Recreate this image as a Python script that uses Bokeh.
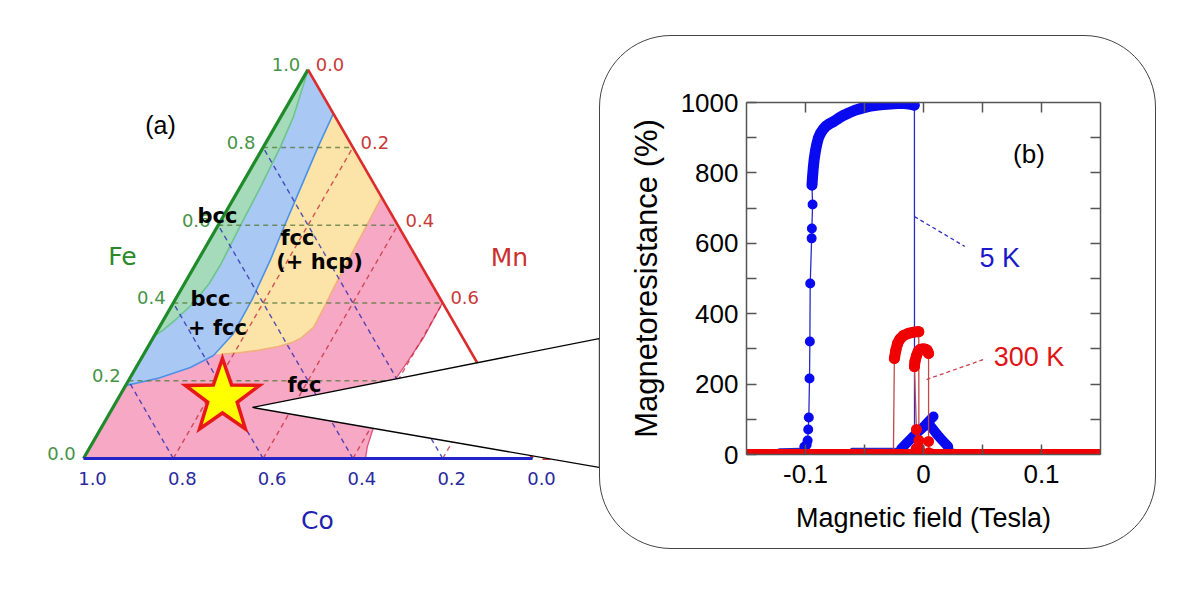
import numpy as np
from bokeh.plotting import figure
from bokeh.models import Range1d, LinearAxis, FixedTicker, Spacer
from bokeh.layouts import row, column
from bokeh.core.properties import value
from bokeh.embed import file_html
from bokeh.resources import INLINE

# ---------------- (a) ternary phase diagram data (Fe fraction, Mn fraction) ----------------
tern_ticks = [0.0, 0.2, 0.4, 0.6, 0.8, 1.0]
tern_tick_labels = ["0.0", "0.2", "0.4", "0.6", "0.8", "1.0"]
grid_vals = [0.2, 0.4, 0.6, 0.8]

bcc_fe = [1.0, 0.95, 0.88, 0.80, 0.70, 0.60, 0.50, 0.45, 0.40, 0.36, 0.33, 0.315]
bcc_mn = [0.0, 0.012, 0.028, 0.038, 0.045, 0.050, 0.056, 0.055, 0.045, 0.028, 0.012, 0.0]

mix_fe = [0.887, 0.80, 0.70, 0.60, 0.51, 0.41, 0.32, 0.265, 0.234, 0.206, 0.195, 0.188]
mix_mn = [0.113, 0.122, 0.135, 0.148, 0.161, 0.171, 0.173, 0.157, 0.121, 0.062, 0.025, 0.0]

hcp_fe = [0.672, 0.58, 0.50, 0.44, 0.38, 0.337, 0.31, 0.298, 0.288, 0.278, 0.272, 0.268]
hcp_mn = [0.328, 0.332, 0.335, 0.338, 0.342, 0.344, 0.330, 0.315, 0.290, 0.250, 0.210, 0.172]

fcc_fe = [0.401, 0.31, 0.25, 0.205, 0.14, 0.07, 0.03, 0.0]
fcc_mn = [0.599, 0.602, 0.597, 0.593, 0.598, 0.608, 0.617, 0.628]

star_fe = 0.157
star_mn = 0.231

# ---------------- (b) magnetoresistance data (field in Tesla, MR in %) ----------------
# 5 K, sweep from negative to positive field
blue_up_x = [-0.150, -0.130, -0.122, -0.104, -0.101, -0.0990, -0.0982, -0.0977, -0.0972, -0.0966,
             -0.0963, -0.0960, -0.0948, -0.0946, -0.0940]
blue_up_y = [4, 6, 16, 17, 22, 28, 40, 71, 105, 216, 321, 486, 614, 642, 710]
blue_plat_x = [-0.0945, -0.0940, -0.0934, -0.0926, -0.0916, -0.0904, -0.0890, -0.0872, -0.0850,
               -0.0825, -0.0795, -0.0760, -0.0720, -0.0680, -0.0630, -0.0580, -0.0520, -0.0460,
               -0.0400, -0.0340, -0.0280, -0.0220, -0.0160, -0.0110, -0.0078]
blue_plat_y = [765, 790, 815, 840, 862, 882, 900, 913, 924, 933, 940, 946, 955, 963, 971, 978,
               984, 989, 992, 994, 996, 997, 997, 995, 992]
blue_after_x = [-0.0077, -0.0076, 0.000, 0.040, 0.150]
blue_after_y = [992, 12, 10, 12, 5]
# 5 K, sweep from positive to negative field
blue_dn_x = [0.150, 0.100, 0.060, 0.030, 0.0240, 0.0210, 0.0160, 0.0120, 0.0080, 0.0043, 0.0085,
             0.0040, 0.0000, -0.0050, -0.0100, -0.0150, -0.0190, -0.0250, -0.0610, -0.0650,
             -0.1000, -0.1500]
blue_dn_y = [5, 6, 8, 12, 16, 22, 40, 55, 72, 88, 108, 93, 78, 63, 47, 30, 16, 17, 17, 8, 5, 4]

# 300 K, sweep from negative to positive field
red_up_x = [-0.150, -0.100, -0.050, -0.0255, -0.0247, -0.0235, -0.0220, -0.0200, -0.0170, -0.0130,
            -0.0090, -0.0050, -0.0040, -0.0039, -0.0035, 0.000, 0.050, 0.100, 0.150]
red_up_y = [0, 0, 0, 0, 273, 295, 315, 328, 338, 344, 347, 349, 349, 40, 17, 0, 0, 0, 0]
# 300 K, sweep from positive to negative field
red_dn_x = [0.150, 0.100, 0.050, 0.010, 0.0046, 0.0043, 0.0043, 0.0030, 0.0010, -0.0010, -0.0030,
            -0.0045, -0.0060, -0.0072, -0.0077, -0.0060, -0.0062, -0.0070, -0.0100, -0.050,
            -0.100, -0.150]
red_dn_y = [0, 0, 0, 0, 5, 37, 287, 297, 300, 300, 298, 293, 280, 265, 250, 71, 17, 0, 0, 0, 0, 0]

mr_yticks = [0, 200, 400, 600, 800, 1000]
mr_yminor = [100, 300, 500, 700, 900]
mr_xticks = [-0.1, 0.0, 0.1]
mr_xminor = [-0.05, 0.05]
mr_xtick_labels = {-0.1: "-0.1", 0.0: "0", 0.1: "0.1"}

# ---------------- layout constants ----------------
X0, Y0, SIDE, SQ = 83.0, 458.0, 449.0, 0.8660


def txy(fe, mn):
    fe = np.asarray(fe, float)
    mn = np.asarray(mn, float)
    return X0 + SIDE * (mn + fe / 2.0), Y0 - SIDE * SQ * fe


FONT_T = value("DejaVu Sans")
FONT_A = value("Liberation Sans")

p1 = figure(width=599, height=587, x_range=Range1d(0, 599), y_range=Range1d(587, 0),
            x_axis_type=None, y_axis_type=None, output_backend="svg", toolbar_location=None,
            min_border=0)
p1.outline_line_color = None
p1.background_fill_color = "white"
p1.border_fill_color = "white"

# phase regions (layered)
pink_x, pink_y = txy([1.0] + fcc_fe + [0.0], [0.0] + fcc_mn + [0.0])
p1.patch(pink_x, pink_y, fill_color="#f6a8c5", line_color=None)
yel_x, yel_y = txy([1.0] + hcp_fe + [hcp_fe[-1]], [0.0] + hcp_mn + [0.0])
p1.patch(yel_x, yel_y, fill_color="#fce3a8", line_color=None)
blu_x, blu_y = txy([1.0] + mix_fe, [0.0] + mix_mn)
p1.patch(blu_x, blu_y, fill_color="#a9c8f4", line_color=None)
grn_x, grn_y = txy(bcc_fe, bcc_mn)
p1.patch(grn_x, grn_y, fill_color="#a5dbba", line_color=None)

# boundary lines
p1.line(*txy(bcc_fe, bcc_mn), line_color="#6cc58c", line_width=1.6)
p1.line(*txy(mix_fe, mix_mn), line_color="#4d92e8", line_width=1.6)
p1.line(*txy(hcp_fe, hcp_mn), line_color="#f2b07a", line_width=1.6)
p1.line(*txy(fcc_fe, fcc_mn), line_color="#e0507c", line_width=1.3)

# dashed grid lines
for g in grid_vals:
    gx, gy = txy([g, g], [0.0, 1 - g])            # constant Fe
    p1.line(gx, gy, line_color="#5a7a40", line_alpha=0.8, line_width=1.4, line_dash="5 4")
    gx, gy = txy([0.0, 1 - g], [g, g])            # constant Mn
    p1.line(gx, gy, line_color="#c8303c", line_alpha=0.8, line_width=1.4, line_dash="5 4")
    gx, gy = txy([0.0, 1 - g], [1 - g, 0.0])      # constant Co
    p1.line(gx, gy, line_color="#2a2ab0", line_alpha=0.8, line_width=1.4, line_dash="5 4")

# triangle edges
p1.line(*txy([0.0, 1.0], [0.0, 0.0]), line_color="#1f8a2a", line_width=3.2)
p1.line(*txy([1.0, 0.0], [0.0, 1.0]), line_color="#dd2a2a", line_width=2.6)
p1.line(*txy([0.0, 0.0], [0.0, 1.0]), line_color="#2424c8", line_width=3.2)

# tick labels
fx, fy = txy(tern_ticks, [0.0] * 6)
p1.text(x=list(fx - 22), y=list(fy - 5), text=tern_tick_labels, text_font=FONT_T,
        text_font_size="18px", text_color="#479347", text_align="center", text_baseline="middle")
mx, my = txy([1 - t for t in tern_ticks], tern_ticks)
p1.text(x=list(mx + 22), y=list(my - 5), text=tern_tick_labels, text_font=FONT_T,
        text_font_size="18px", text_color="#c83a3a", text_align="center", text_baseline="middle")
cx_, cy_ = txy([0.0] * 6, [1 - t for t in tern_ticks])
p1.text(x=list(cx_ + 9), y=list(cy_ + 20), text=tern_tick_labels, text_font=FONT_T,
        text_font_size="18px", text_color="#2a2aa0", text_align="center", text_baseline="middle")

# axis names
p1.text(x=[122], y=[256], text=["Fe"], text_font=FONT_T, text_font_size="25px",
        text_color="#2a8a2a", text_align="center", text_baseline="middle")
p1.text(x=[509], y=[257], text=["Mn"], text_font=FONT_T, text_font_size="25px",
        text_color="#cc3030", text_align="center", text_baseline="middle")
p1.text(x=[317], y=[520], text=["Co"], text_font=FONT_T, text_font_size="25px",
        text_color="#2222b0", text_align="center", text_baseline="middle")

# phase labels
phase_text = ["bcc", "fcc", "(+ hcp)", "bcc", "+ fcc", "fcc"]
phase_x = [217, 297, 319, 210, 217, 304]
phase_y = [215, 237, 261, 298, 327, 384]
p1.text(x=phase_x, y=phase_y, text=phase_text, text_font=FONT_T, text_font_size="21px",
        text_font_style="bold", text_color="black", text_align="center",
        text_baseline="alphabetic")

p1.text(x=[160], y=[124], text=["(a)"], text_font=FONT_A, text_font_size="25px",
        text_color="black", text_align="center", text_baseline="middle")

# call-out wedge from the star to panel (b)
scx, scy = txy(star_fe, star_mn)
scx, scy = float(scx), float(scy)
wedge_x = [scx + 30, 599, 599]
wedge_y = [scy + 10, 338, 467]
p1.patch(wedge_x, wedge_y, fill_color="white", line_color="black", line_width=1.3)

# star
R, r = 39.0, 15.5
ang_o = np.deg2rad(-90 + 72 * np.arange(5))
ang_i = ang_o + np.deg2rad(36)
st_x, st_y = [], []
for ao, ai in zip(ang_o, ang_i):
    st_x += [scx + R * np.cos(ao), scx + r * np.cos(ai)]
    st_y += [scy + R * np.sin(ao), scy + r * np.sin(ai)]
p1.patch(st_x, st_y, fill_color="#ffff00", line_color="#e81818", line_width=3.5,
         line_join="miter")

# ---------------- (b) panel ----------------
p2 = figure(width=557, height=514, x_range=Range1d(-0.15, 0.15), y_range=Range1d(0, 1000),
            output_backend="svg", toolbar_location=None,
            min_border_left=146, min_border_right=57, min_border_top=66, min_border_bottom=96,
            styles={"border": "1.3px solid #444444", "border-radius": "72px",
                    "overflow": "hidden"})
p2.grid.visible = False
p2.outline_line_color = None
p2.background_fill_color = "white"
p2.border_fill_alpha = 0.0

AX = "#555555"


def style_axis(ax, labels=True):
    ax.axis_line_color = AX
    ax.axis_line_width = 1.5
    ax.major_tick_line_color = AX
    ax.major_tick_line_width = 1.5
    ax.minor_tick_line_color = AX
    ax.minor_tick_line_width = 1.5
    ax.major_tick_in = 10
    ax.major_tick_out = 0
    ax.minor_tick_in = 10
    ax.minor_tick_out = 0
    ax.major_label_text_font = "Liberation Sans"
    if labels:
        ax.major_label_text_font_size = "26px"
        ax.major_label_text_color = "black"
    else:
        ax.major_label_text_font_size = "1px"
        ax.major_label_text_color = None
    ax.axis_label_text_font = "Liberation Sans"
    ax.axis_label_text_font_style = "normal"
    ax.axis_label_text_color = "black"


xa = p2.xaxis[0]
style_axis(xa)
xa.ticker = FixedTicker(ticks=mr_xticks, minor_ticks=mr_xminor)
xa.major_label_overrides = mr_xtick_labels
xa.major_label_standoff = 10
xa.axis_label = "Magnetic field (Tesla)"
xa.axis_label_text_font_size = "27px"
xa.axis_label_standoff = 17

ya = p2.yaxis[0]
style_axis(ya)
ya.ticker = FixedTicker(ticks=mr_yticks, minor_ticks=mr_yminor)
ya.major_label_standoff = 8
ya.axis_label = "Magnetoresistance (%)"
ya.axis_label_text_font_size = "31px"
ya.axis_label_standoff = 14

top_ax = LinearAxis(ticker=FixedTicker(ticks=[-0.1, -0.05, 0.0, 0.05, 0.1]))
style_axis(top_ax, labels=False)
p2.add_layout(top_ax, "above")
right_ax = LinearAxis(ticker=FixedTicker(ticks=mr_yminor + mr_yticks[1:-1]))
style_axis(right_ax, labels=False)
p2.add_layout(right_ax, "right")

BLUE, RED = "#0a0af0", "#f00000"
BLUE_THIN, RED_THIN = "#2a2ac8", "#c04848"

# 5 K
blue_path_x = blue_up_x + blue_plat_x + blue_after_x
blue_path_y = blue_up_y + blue_plat_y + blue_after_y
p2.line(blue_path_x, blue_path_y, line_color=BLUE_THIN, line_width=1.3)
p2.line(blue_dn_x, blue_dn_y, line_color=BLUE_THIN, line_width=1.3)
p2.line(blue_plat_x, blue_plat_y, line_color=BLUE, line_width=11, line_cap="round",
        line_join="round")
p2.line(blue_dn_x[5:10], blue_dn_y[5:10], line_color=BLUE, line_width=10, line_cap="round",
        line_join="round")
p2.line(blue_dn_x[10:17], blue_dn_y[10:17], line_color=BLUE, line_width=10, line_cap="round",
        line_join="round")
p2.scatter(blue_up_x[4:] + blue_plat_x, blue_up_y[4:] + blue_plat_y, size=10, fill_color=BLUE,
           line_color=None)

# 300 K
p2.line(red_up_x, red_up_y, line_color=RED_THIN, line_width=1.3)
p2.line(red_dn_x, red_dn_y, line_color=RED_THIN, line_width=1.3)
p2.line([red_up_x[0], red_up_x[-1]], [red_up_y[0], red_up_y[-1]], line_color=RED,
        line_width=11, line_cap="round")
p2.line(red_up_x[4:13], red_up_y[4:13], line_color=RED, line_width=11, line_cap="round",
        line_join="round")
p2.line(red_dn_x[6:15], red_dn_y[6:15], line_color=RED, line_width=11, line_cap="round",
        line_join="round")
p2.scatter(red_up_x + red_dn_x, red_up_y + red_dn_y, size=11, fill_color=RED, line_color=None)

# labels and leaders
p2.line([-0.0077, 0.035], [676, 591], line_color="#3030c0", line_width=1.3, line_dash="4 3")
p2.line([0.0026, 0.051], [213, 270], line_color="#d04050", line_width=1.3, line_dash="4 3")
p2.text(x=[0.0647], y=[557], text=["5 K"], text_font=FONT_A, text_font_size="27px",
        text_color="#1a1acc", text_align="center", text_baseline="middle")
p2.text(x=[0.0894], y=[276], text=["300 K"], text_font=FONT_A, text_font_size="27px",
        text_color="#e01414", text_align="center", text_baseline="middle")
p2.text(x=[0.0894], y=[855], text=["(b)"], text_font=FONT_A, text_font_size="26px",
        text_color="black", text_align="center", text_baseline="middle")

layout = row(p1, column(Spacer(width=10, height=35), p2))
open("out.html", "w").write(file_html(layout, INLINE))
